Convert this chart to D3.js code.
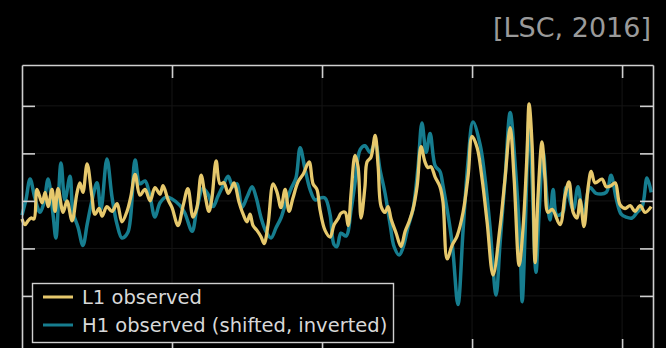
<!DOCTYPE html>
<html>
<head>
<meta charset="utf-8">
<script src="https://cdn.jsdelivr.net/npm/d3@7"></script>
<style>
  html, body { margin: 0; padding: 0; background: #000; overflow: hidden; }
</style>
</head>
<body>
<div id="chart"></div>
<script>
// strain (x1e-21) against time (s)
const l1Observed = [
  [0.2500,-0.19],[0.2510,-0.25],[0.2520,-0.21],[0.2530,-0.18],[0.2540,-0.19],[0.2550,0.12],[0.2567,-0.02],[0.2577,0.09],
  [0.2587,-0.06],[0.2600,0.12],[0.2610,-0.11],[0.2620,0.13],[0.2637,-0.12],[0.2650,0.00],[0.2667,-0.21],[0.2683,0.08],
  [0.2693,0.19],[0.2703,0.09],[0.2717,0.39],[0.2733,0.05],[0.2743,-0.14],[0.2757,-0.08],[0.2767,-0.16],[0.2783,-0.06],
  [0.2800,-0.11],[0.2817,-0.03],[0.2833,-0.22],[0.2850,-0.11],[0.2863,0.05],[0.2877,0.28],[0.2893,0.06],[0.2910,0.12],
  [0.2927,0.00],[0.2943,0.14],[0.2960,0.07],[0.2970,0.16],[0.2987,0.01],[0.3000,-0.07],[0.3020,-0.26],[0.3037,-0.05],
  [0.3053,0.13],[0.3070,-0.17],[0.3083,-0.07],[0.3097,0.27],[0.3110,0.06],[0.3123,-0.11],[0.3133,0.03],[0.3147,0.42],
  [0.3160,0.18],[0.3173,0.19],[0.3187,0.08],[0.3197,0.13],[0.3207,0.19],[0.3223,-0.01],[0.3237,-0.14],[0.3250,-0.22],
  [0.3260,-0.14],[0.3270,-0.26],[0.3283,-0.31],[0.3297,-0.38],[0.3307,-0.45],[0.3320,-0.25],[0.3337,0.18],[0.3350,0.09],
  [0.3363,-0.07],[0.3377,0.12],[0.3390,-0.11],[0.3403,0.03],[0.3420,0.20],[0.3437,0.28],[0.3457,0.41],[0.3470,0.18],
  [0.3483,0.12],[0.3493,-0.09],[0.3510,-0.31],[0.3527,-0.38],[0.3540,-0.25],[0.3553,-0.19],[0.3563,-0.13],[0.3577,-0.12],
  [0.3587,-0.26],[0.3597,0.09],[0.3610,0.48],[0.3620,0.36],[0.3630,-0.18],[0.3643,0.15],[0.3650,0.41],[0.3663,0.46],
  [0.3677,0.69],[0.3687,0.36],[0.3697,-0.06],[0.3710,-0.12],[0.3720,-0.06],[0.3730,-0.19],[0.3747,-0.34],[0.3763,-0.48],
  [0.3777,-0.32],[0.3790,-0.22],[0.3803,-0.09],[0.3817,0.16],[0.3830,0.57],[0.3843,0.41],[0.3853,0.35],[0.3863,0.36],
  [0.3877,0.25],[0.3893,0.15],[0.3903,-0.01],[0.3917,-0.61],[0.3933,-0.47],[0.3950,-0.37],[0.3970,-0.12],[0.3987,0.27],
  [0.4000,0.68],[0.4017,0.56],[0.4033,0.24],[0.4050,-0.22],[0.4070,-0.78],[0.4093,-0.28],[0.4110,0.24],[0.4127,0.77],
  [0.4140,0.24],[0.4157,-0.68],[0.4170,-0.28],[0.4183,0.48],[0.4190,1.02],[0.4200,0.59],[0.4210,-0.65],[0.4220,0.06],
  [0.4233,0.62],[0.4243,0.24],[0.4253,-0.12],[0.4267,-0.09],[0.4293,-0.25],[0.4310,0.06],[0.4323,0.20],[0.4337,-0.12],
  [0.4350,-0.18],[0.4360,0.01],[0.4373,-0.27],[0.4387,0.15],[0.4397,0.31],[0.4410,0.19],[0.4433,0.23],[0.4447,0.15],
  [0.4463,0.16],[0.4477,0.19],[0.4493,-0.04],[0.4510,-0.08],[0.4527,-0.05],[0.4543,-0.11],[0.4560,-0.05],[0.4577,-0.12],
  [0.4597,-0.06]
];

const h1Observed = [
  [0.2500,-0.15],[0.2513,0.01],[0.2527,0.23],[0.2543,0.03],[0.2560,-0.12],[0.2573,-0.02],[0.2587,0.23],[0.2603,-0.13],
  [0.2613,-0.39],[0.2630,0.40],[0.2643,0.01],[0.2660,0.26],[0.2670,-0.12],[0.2687,-0.28],[0.2703,-0.47],[0.2717,-0.25],
  [0.2733,0.00],[0.2750,0.19],[0.2763,-0.09],[0.2783,0.44],[0.2800,0.04],[0.2817,-0.25],[0.2833,-0.39],[0.2853,-0.33],
  [0.2877,0.43],[0.2893,0.18],[0.2910,0.21],[0.2927,0.04],[0.2943,-0.17],[0.2960,-0.02],[0.2980,0.04],[0.3000,0.02],
  [0.3027,-0.05],[0.3043,-0.13],[0.3067,-0.32],[0.3083,-0.08],[0.3103,0.13],[0.3120,0.07],[0.3137,-0.06],[0.3153,0.05],
  [0.3170,0.16],[0.3187,0.26],[0.3203,0.15],[0.3217,0.18],[0.3233,-0.07],[0.3250,0.04],[0.3267,0.15],[0.3280,0.04],
  [0.3297,-0.18],[0.3313,-0.32],[0.3330,-0.39],[0.3347,-0.28],[0.3363,-0.18],[0.3380,-0.01],[0.3397,0.13],[0.3413,0.24],
  [0.3427,0.56],[0.3443,0.34],[0.3460,0.12],[0.3477,0.01],[0.3493,0.03],[0.3510,0.03],[0.3527,-0.15],[0.3540,-0.46],
  [0.3550,-0.48],[0.3563,-0.34],[0.3580,-0.37],[0.3597,-0.09],[0.3610,0.19],[0.3627,0.54],[0.3643,0.58],[0.3660,0.51],
  [0.3677,0.61],[0.3693,0.33],[0.3710,0.08],[0.3727,-0.25],[0.3740,-0.48],[0.3757,-0.57],[0.3770,-0.49],[0.3787,-0.27],
  [0.3803,-0.09],[0.3820,0.36],[0.3833,0.82],[0.3847,0.51],[0.3860,0.71],[0.3877,0.37],[0.3893,0.31],[0.3903,0.16],
  [0.3933,-0.43],[0.3953,-1.09],[0.3970,-0.31],[0.3987,0.43],[0.4003,0.83],[0.4027,0.59],[0.4043,0.24],[0.4060,-0.28],
  [0.4080,-0.99],[0.4093,-0.46],[0.4110,0.24],[0.4127,0.93],[0.4143,0.41],[0.4160,-0.46],[0.4167,-1.06],[0.4177,-0.31],
  [0.4190,0.87],[0.4200,0.22],[0.4213,-0.75],[0.4223,-0.15],[0.4237,0.52],[0.4250,0.01],[0.4260,-0.20],[0.4270,0.12],
  [0.4283,-0.15],[0.4303,-0.12],[0.4313,0.14],[0.4337,-0.09],[0.4353,0.15],[0.4370,-0.15],[0.4393,0.14],[0.4413,0.08],
  [0.4447,0.09],[0.4463,0.27],[0.4480,0.03],[0.4497,-0.14],[0.4513,-0.17],[0.4533,-0.18],[0.4550,-0.12],[0.4567,-0.06],
  [0.4583,0.24],[0.4597,0.09]
];

const seriesNames = ['L1 observed', 'H1 observed (shifted, inverted)'];
const xTicks = [0.30, 0.35, 0.40, 0.45];
const yTicks = [-1, -0.5, 0, 0.5, 1];
const sourceNote = '[LSC, 2016]';

const W = 666, H = 348;
const L1_COLOR = '#e6c86c';
const H1_COLOR = '#167d8f';
const FRAME = '#cfcfcf';
const TICK = 13;

const svg = d3.select('#chart').append('svg')
  .attr('width', W).attr('height', H)
  .style('display', 'block')
  .style('background', '#000');

// plot box runs past the bottom of the window like in the reference
const plotLeft = 22, plotRight = 653, plotTop = 65, plotBottom = 352;

const x = d3.scaleLinear().domain([0.25, 0.4603]).range([plotLeft, plotRight]);
const y = d3.scaleLinear().domain([-1.59, 1.43]).range([plotBottom, plotTop]);

// faint grid
const grid = svg.append('g').attr('stroke', '#151515').attr('stroke-width', 1);
grid.selectAll('.gx').data(xTicks).enter().append('line')
  .attr('x1', d => x(d)).attr('x2', d => x(d)).attr('y1', plotTop).attr('y2', plotBottom);
grid.selectAll('.gy').data(yTicks).enter().append('line')
  .attr('y1', d => y(d)).attr('y2', d => y(d)).attr('x1', plotLeft).attr('x2', plotRight);

const line = d3.line()
  .x(d => x(d[0]))
  .y(d => y(d[1]))
  .curve(d3.curveCatmullRom.alpha(0.5));

svg.append('path').datum(h1Observed)
  .attr('d', line).attr('fill', 'none')
  .attr('stroke', H1_COLOR).attr('stroke-width', 3.5).attr('stroke-linejoin', 'round');

svg.append('path').datum(l1Observed)
  .attr('d', line).attr('fill', 'none')
  .attr('stroke', L1_COLOR).attr('stroke-width', 3.3).attr('stroke-linejoin', 'round');

// frame with inward ticks
function styleAxis(g) {
  g.attr('color', FRAME);
  g.selectAll('path').attr('stroke-width', 1.6);
  g.selectAll('line').attr('stroke-width', 1.6);
  g.selectAll('text').remove();
}
svg.append('g').attr('transform', `translate(0,${plotTop})`)
  .call(d3.axisTop(x).tickValues(xTicks).tickSizeInner(-TICK).tickSizeOuter(0).tickFormat(''))
  .call(styleAxis);
svg.append('g').attr('transform', `translate(0,${plotBottom})`)
  .call(d3.axisBottom(x).tickValues(xTicks).tickSizeInner(-TICK).tickSizeOuter(0).tickFormat(''))
  .call(styleAxis);
svg.append('g').attr('transform', `translate(${plotLeft},0)`)
  .call(d3.axisLeft(y).tickValues(yTicks).tickSizeInner(-TICK).tickSizeOuter(0).tickFormat(''))
  .call(styleAxis);
svg.append('g').attr('transform', `translate(${plotRight},0)`)
  .call(d3.axisRight(y).tickValues(yTicks).tickSizeInner(-TICK).tickSizeOuter(0).tickFormat(''))
  .call(styleAxis);

// source note
svg.append('text')
  .attr('x', 651).attr('y', 37)
  .attr('text-anchor', 'end')
  .attr('font-family', 'DejaVu Sans')
  .attr('font-size', 27)
  .attr('fill', '#9a9a9a')
  .text(sourceNote);

// legend
const legend = svg.append('g');
legend.append('rect')
  .attr('x', 32.5).attr('y', 283.5).attr('width', 361).attr('height', 59)
  .attr('fill', '#000').attr('stroke', FRAME).attr('stroke-width', 1.4);
const legendColors = [L1_COLOR, H1_COLOR];
seriesNames.forEach((name, i) => {
  const cy = 297 + i * 28;
  legend.append('line')
    .attr('x1', 43).attr('x2', 73).attr('y1', cy).attr('y2', cy)
    .attr('stroke', legendColors[i]).attr('stroke-width', 3);
  legend.append('text')
    .attr('x', 82).attr('y', cy + 6.5)
    .attr('font-family', 'DejaVu Sans')
    .attr('font-size', 19.5)
    .attr('fill', '#d8d8d8')
    .text(name);
});
</script>
</body>
</html>
